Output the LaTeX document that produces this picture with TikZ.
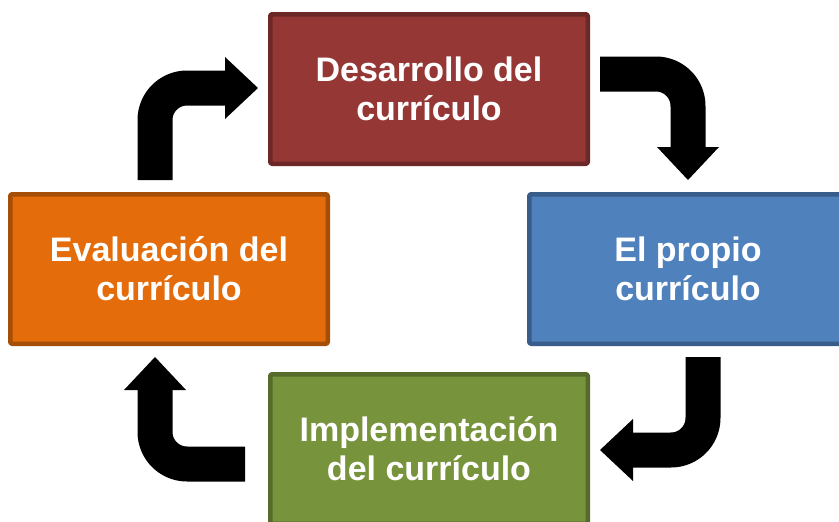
\documentclass[tikz,border=0pt]{standalone}
\usepackage{fontspec}
\setmainfont{Liberation Sans}
\usetikzlibrary{arrows.meta}

\definecolor{desfill}{HTML}{953735}
\definecolor{desline}{HTML}{6B2826}
\definecolor{profill}{HTML}{4F81BD}
\definecolor{proline}{HTML}{385D8A}
\definecolor{impfill}{HTML}{77933C}
\definecolor{impline}{HTML}{566A2B}
\definecolor{evafill}{HTML}{E46C0A}
\definecolor{evaline}{HTML}{A44E07}

\begin{document}
\begin{tikzpicture}[x=1pt, y=-1pt, line join=round,
  box/.style={draw, line width=4.5pt, rounded corners=2pt, minimum width=317.5pt,
    minimum height=149.5pt, inner sep=0pt, align=center, text=white,
    font=\bfseries\fontsize{34}{39}\selectfont},
  blockarrow/.style={line width=35pt, rounded corners=32pt,
    -{Triangle[length=33pt, width=62pt, line width=0pt]}}]
	\useasboundingbox (0,0) rectangle (839,522);

	%Boxes
	\node[box, fill=desfill, draw=desline] (d) at (429,89) {Desarrollo del\\curr\'iculo};
	\node[box, fill=profill, draw=proline] (p) at (688,269) {El propio\\curr\'iculo};
	\node[box, fill=impfill, draw=impline] (i) at (429,449) {Implementaci\'on\\del curr\'iculo};
	\node[box, fill=evafill, draw=evaline] (e) at (169,269) {Evaluaci\'on del\\curr\'iculo};

	%Arrow Ends
	\coordinate (a1) at (155,180);
	\coordinate (a2) at (258,88);
	\coordinate (a3) at (600,74);
	\coordinate (a4) at (688,180);
	\coordinate (a5) at (703,357);
	\coordinate (a6) at (600,450);
	\coordinate (a7) at (245,464);
	\coordinate (a8) at (155,357);

	%Arrows
	\draw[blockarrow] (a1) |- (a2);
	\draw[blockarrow] (a3) -| (a4);
	\draw[blockarrow] (a5) |- (a6);
	\draw[blockarrow] (a7) -| (a8);
\end{tikzpicture}
\end{document}
